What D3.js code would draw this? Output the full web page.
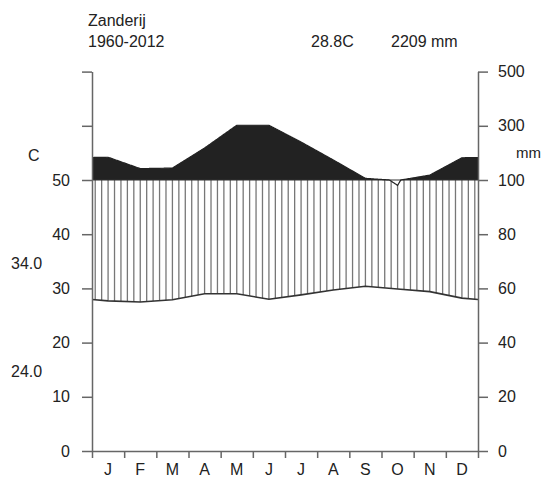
<!DOCTYPE html>
<html>
<head>
<meta charset="utf-8">
<script src="https://cdn.jsdelivr.net/npm/d3@7"></script>
<style>
  body { margin: 0; background: #fff; }
  svg { display: block; }
  text { font-family: "Liberation Sans", Arial, sans-serif; fill: #222; }
</style>
</head>
<body>
<svg id="chart" width="543" height="483"></svg>
<script>
// ---- data ----
const station = "Zanderij";
const period = "1960-2012";
const meanTempLabel = "28.8C";
const totalPrecipLabel = "2209 mm";
const months = ["J","F","M","A","M","J","J","A","S","O","N","D"];
const tempC = [27.7, 27.5, 27.9, 29.0, 29.0, 28.0, 28.8, 29.7, 30.4, 29.9, 29.4, 28.2];
const precipMm = [184, 142, 144, 218, 302, 302, 240, 174, 106, 98, 118, 182];
const leftTicks = [0, 10, 20, 30, 40, 50];
const leftExtraTicks = [60, 70];
const rightTicks = [0, 20, 40, 60, 80, 100, 300, 500];
const maxTempLabel = "34.0";
const minTempLabel = "24.0";

// ---- scales ----
const svg = d3.select("#chart");
const x = d3.scaleLinear().domain([0, 12]).range([92, 478]);
const y = d3.scaleLinear().domain([0, 70]).range([451, 71.6]);
// precipitation in mm -> temperature-equivalent units (Walter-Lieth)
const pScale = p => p <= 100 ? p / 2 : 50 + (p - 100) / 20;

// series placed at month centres, extended to the plot edges
function extend(vals) {
  const edge = (vals[11] + vals[0]) / 2;
  const pts = [{m: 0, v: edge}];
  vals.forEach((v, i) => pts.push({m: i + 0.5, v}));
  pts.push({m: 12, v: edge});
  return pts;
}
const interp = (pts, m) => {
  for (let i = 0; i < pts.length - 1; i++) {
    if (m >= pts[i].m && m <= pts[i + 1].m) {
      const f = (m - pts[i].m) / (pts[i + 1].m - pts[i].m);
      return pts[i].v + f * (pts[i + 1].v - pts[i].v);
    }
  }
  return pts[pts.length - 1].v;
};
const tPts = extend(tempC);
const pMmPts = extend(precipMm);
// dense sampling: interpolate in mm, then rescale
const dense = d3.range(0, 12.0001, 0.02).map(m => ({m, v: pScale(interp(pMmPts, m))}));

// ---- clip above 100 mm line ----
const defs = svg.append("defs");
defs.append("clipPath").attr("id", "above")
  .append("rect").attr("x", x(0)).attr("y", 0)
  .attr("width", x(12) - x(0)).attr("height", y(50));

// ---- humid hatching ----
const nHatch = 60;
const hatch = [];
for (let i = 0; i < nHatch; i++) {
  const m = (i + 0.5) * 12 / nHatch;
  const t = interp(tPts, m), p = pScale(interp(pMmPts, m));
  if (p > t) hatch.push({m, t, top: Math.min(p, 50)});
}
svg.append("g").selectAll("line").data(hatch).join("line")
  .attr("x1", d => x(d.m)).attr("x2", d => x(d.m))
  .attr("y1", d => y(d.t)).attr("y2", d => y(d.top))
  .attr("stroke", "#777").attr("stroke-width", 1.3);

// ---- precipitation above 100 mm (black) ----
const area = d3.area().x(d => x(d.m)).y0(y(50)).y1(d => y(d.v));
svg.append("path").datum(dense).attr("d", area)
  .attr("fill", "#222").attr("clip-path", "url(#above)");

// ---- lines ----
const line = d3.line().x(d => x(d.m)).y(d => y(d.v));
svg.append("line").attr("x1", x(0)).attr("x2", x(12)).attr("y1", y(50)).attr("y2", y(50))
  .attr("stroke", "#333").attr("stroke-width", 1);
svg.append("path").datum(dense).attr("d", line)
  .attr("fill", "none").attr("stroke", "#222").attr("stroke-width", 1.2);
svg.append("path").datum(tPts).attr("d", line)
  .attr("fill", "none").attr("stroke", "#333").attr("stroke-width", 1.6);

// ---- axes ----
function styleAxis(g) {
  g.selectAll(".domain").attr("stroke", "#666").attr("stroke-width", 1.5);
  g.selectAll(".tick line").attr("stroke", "#666").attr("stroke-width", 1.5);
  g.selectAll(".tick text").attr("fill", "#333")
    .style("font-size", "16px").style("font-family", "Liberation Sans, Arial, sans-serif");
}
const gLeft = svg.append("g").attr("transform", `translate(${x(0)},0)`)
  .call(d3.axisLeft(y).tickValues(leftTicks.concat(leftExtraTicks))
    .tickFormat(d => leftTicks.includes(d) ? d : "")
    .tickSize(10).tickSizeOuter(0).tickPadding(12));
styleAxis(gLeft);

const gRight = svg.append("g").attr("transform", `translate(${x(12)},0)`)
  .call(d3.axisRight(y).tickValues(rightTicks.map(pScale))
    .tickFormat((d, i) => rightTicks[i])
    .tickSize(10).tickSizeOuter(0).tickPadding(10));
styleAxis(gRight);

const gBottom = svg.append("g").attr("transform", `translate(0,${y(0)})`)
  .call(d3.axisBottom(x).tickValues(d3.range(13)).tickFormat("")
    .tickSize(7).tickSizeOuter(0));
styleAxis(gBottom);

svg.append("g").selectAll("text").data(months).join("text")
  .attr("x", (d, i) => x(i + 0.5)).attr("y", 475)
  .attr("text-anchor", "middle").style("font-size", "16px").text(d => d);

// ---- labels ----
const txt = (t, xx, yy, anchor, size) => svg.append("text").attr("x", xx).attr("y", yy)
  .attr("text-anchor", anchor || "start").style("font-size", (size || 16) + "px").text(t);
txt(station, 88, 26);
txt(period, 88, 47);
txt(meanTempLabel, 311, 47);
txt(totalPrecipLabel, 391, 47);
txt("C", 28, 161);
txt("mm", 541, 158, "end", 15);
txt(maxTempLabel, 11, 269);
txt(minTempLabel, 11, 377);
</script>
</body>
</html>
